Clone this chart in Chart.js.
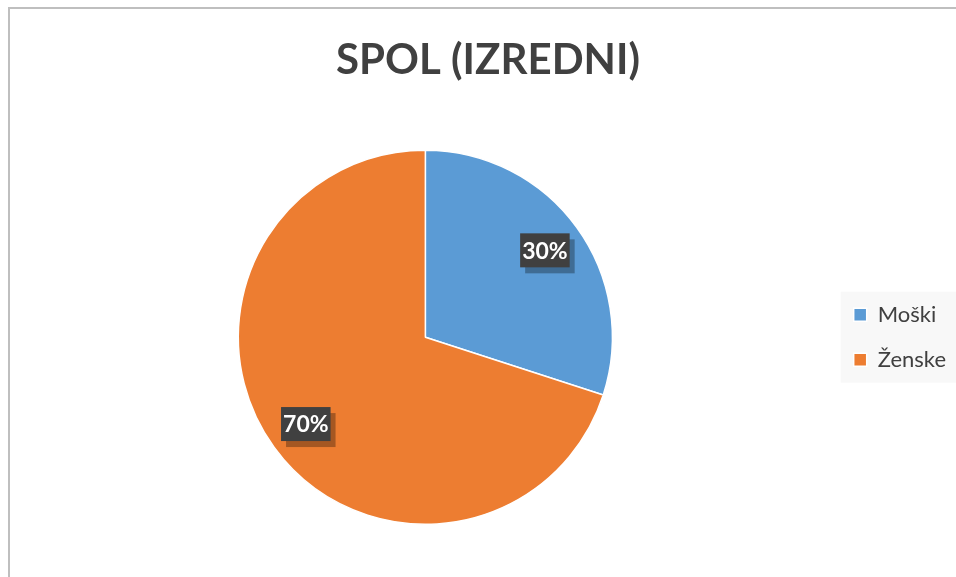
<!DOCTYPE html>
<html>
<head>
<meta charset="utf-8">
<script src="https://cdn.jsdelivr.net/npm/chart.js@4/dist/chart.umd.min.js"></script>
<style>
  body { margin: 0; background: #fff; }
  #frame { position: absolute; left: 8px; top: 7px; width: 948px; height: 570px;
           border-left: 2px solid #bfbfbf; border-top: 2px solid #bfbfbf; }
  canvas { position: absolute; left: 0; top: 0; }
</style>
</head>
<body>
<div id="frame"><canvas id="pie" width="946" height="568"></canvas></div>
<script>
// Spol (izredni) - delež
var kategorije = ['Moški', 'Ženske'];
var delezi = [30, 70];
var barve = ['#5B9BD5', '#ED7D31'];

var pisava = 'Lato, "Open Sans", sans-serif';

// legenda naj bo poravnana s sredino tortnega grafa
var premikLegende = {
  id: 'premikLegende',
  afterUpdate: function (chart) {
    var lg = chart.legend;
    if (!lg || !lg.legendHitBoxes.length) return;
    var hb = lg.legendHitBoxes;
    var cilj = chart.chartArea.top + (chart.chartArea.bottom - chart.chartArea.top) / 2;
    var zadnji = hb[hb.length - 1];
    var sredina = (hb[0].top + zadnji.top + zadnji.height) / 2;
    var d = cilj - sredina;
    lg.top += d;
    lg.bottom += d;
    hb.forEach(function (b) { b.top += d; });
  }
};

// ozadje legende
var ozadjeLegende = {
  id: 'ozadjeLegende',
  beforeDraw: function (chart) {
    var lg = chart.legend;
    if (!lg || !lg.legendHitBoxes.length) return;
    var hb = lg.legendHitBoxes;
    var ctx = chart.ctx;
    ctx.save();
    ctx.fillStyle = '#f8f8f8';
    var x0 = hb[0].left - 13;
    var y0 = hb[0].top - 12;
    var y1 = hb[hb.length - 1].top + hb[hb.length - 1].height + 12;
    ctx.fillRect(x0, y0, chart.width - x0, y1 - y0);
    ctx.restore();
  }
};

// oznake z odstotki
var oznake = {
  id: 'oznake',
  afterDatasetsDraw: function (chart) {
    var ctx = chart.ctx;
    var meta = chart.getDatasetMeta(0);
    ctx.save();
    ctx.font = 'bold 23px ' + pisava;
    ctx.textAlign = 'center';
    ctx.textBaseline = 'middle';
    meta.data.forEach(function (arc, i) {
      var mid = (arc.startAngle + arc.endAngle) / 2;
      var x = arc.x + Math.cos(mid) * arc.outerRadius * 0.79;
      var y = arc.y + Math.sin(mid) * arc.outerRadius * 0.79;
      var txt = delezi[i] + '%';
      var w = ctx.measureText(txt).width + 4;
      var h = 34;
      ctx.fillStyle = 'rgba(0,0,0,0.3)';
      ctx.fillRect(x - w / 2 + 5, y - h / 2 + 6, w, h);
      ctx.fillStyle = '#404040';
      ctx.fillRect(x - w / 2, y - h / 2, w, h);
      ctx.fillStyle = '#ffffff';
      ctx.fillText(txt, x, y + 1);
    });
    ctx.restore();
  }
};

var ctx = document.getElementById('pie').getContext('2d');
var graf = new Chart(ctx, {
  type: 'pie',
  data: {
    labels: kategorije,
    datasets: [{
      data: delezi,
      backgroundColor: barve,
      borderColor: '#ffffff',
      borderWidth: 1.5
    }]
  },
  options: {
    responsive: false,
    animation: false,
    layout: { padding: { left: 10, bottom: 52 } },
    plugins: {
      title: {
        display: true,
        text: 'SPOL (IZREDNI)',
        color: '#404040',
        font: { family: pisava, size: 42, weight: 'bold' },
        padding: { top: 26, bottom: 64 }
      },
      legend: {
        position: 'right',
        labels: {
          color: '#404040',
          font: { family: pisava, size: 22 },
          boxWidth: 13,
          boxHeight: 13,
          padding: 23
        }
      },
      tooltip: { enabled: false }
    }
  },
  plugins: [premikLegende, ozadjeLegende, oznake]
});
</script>
</body>
</html>
